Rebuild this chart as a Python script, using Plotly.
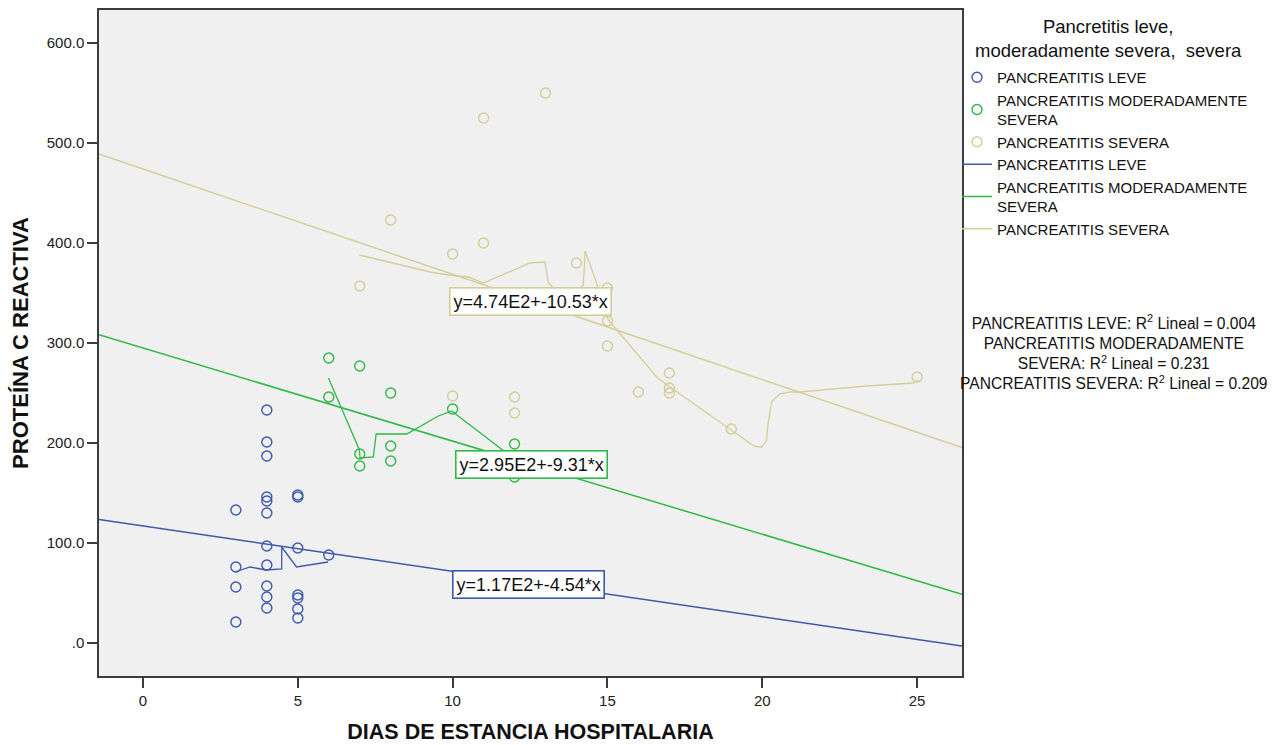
import plotly.graph_objects as go

# Hospital stay (days) vs. C-reactive protein, by pancreatitis severity
leve_x = [4, 4, 4, 4, 4, 5, 5, 3, 4, 4, 5, 6, 3, 4, 3, 4, 4, 4, 5, 5, 5, 5, 3]
leve_y = [233, 201, 187, 146, 142, 148, 146, 133, 130, 97, 95, 88, 76, 78, 56, 57, 46, 35, 48, 45, 34, 25, 21]

mod_x = [6, 7, 6, 8, 10, 7, 7, 8, 8, 12, 12]
mod_y = [285, 277, 246, 250, 234, 189, 177, 197, 182, 199, 166]

sev_x = [13, 11, 8, 11, 10, 14, 7, 15, 15, 15, 17, 16, 17, 17, 19, 25, 10, 12, 12]
sev_y = [550, 525, 423, 400, 389, 380, 357, 355, 322, 297, 270, 251, 255, 250, 214, 266, 247, 246, 230]

# Local (loess) fit curves per group
leve_curve_x = [2.97, 3.46, 3.97, 4.48, 4.48, 4.96, 5.98]
leve_curve_y = [71, 76, 73, 74, 96, 76, 81]

mod_curve_x = [5.99, 6.99, 7.01, 7.44, 7.53, 8.52, 9.54, 9.97, 11.53, 11.98]
mod_curve_y = [265, 193, 185, 186, 209, 209, 227, 232, 195, 185]

sev_curve_x = [6.99, 9.27, 9.86, 10.51, 10.99, 12.50, 12.98, 13.09, 13.66, 14.22, 14.28, 14.65,
               15.03, 16.59, 17.02, 17.99, 19.01, 19.6, 19.73, 19.87, 19.99, 20.09, 20.14, 20.18,
               20.3, 20.56, 20.88, 21.22, 23.37, 24.88, 25.04]
sev_curve_y = [388, 371, 368, 366, 360, 380, 381, 360, 343, 358, 392, 360,
               323, 266, 256, 235, 213, 200, 197, 196, 196, 200, 203, 218,
               241, 249, 251, 251, 257, 260, 263]

# Linear fit coefficients (intercept, slope) and R squared
group_names = ["PANCREATITIS LEVE", "PANCREATITIS MODERADAMENTE<br>SEVERA", "PANCREATITIS SEVERA"]
r2_names = ["PANCREATITIS LEVE", "PANCREATITIS MODERADAMENTE<br>SEVERA", "PANCREATITIS SEVERA"]
intercepts = [117, 295, 474]
slopes = [-4.54, -9.31, -10.53]
r2_values = [0.004, 0.231, 0.209]
label_x = [12.45, 12.55, 12.52]
label_y = [58.5, 178.5, 342]

colors = ["#3E58AC", "#2EB848", "#D3CE97"]

x_ticks = [0, 5, 10, 15, 20, 25]
y_ticks = [0, 100, 200, 300, 400, 500, 600]
x_range = [-1.42, 26.45]
y_range = [-33, 633]

legend_title = "Pancretitis leve,<br>moderadamente severa,  severa"

FONT = "Liberation Sans, Arial, sans-serif"

W, H = 1275, 745
M = dict(l=99, r=313, t=10, b=69)


def sci(v):
    exp = len(str(int(abs(v)))) - 1
    return f"{v / 10 ** exp:.2f}E{exp}"


def y_label(v):
    s = f"{v:.1f}"
    return s[1:] if s.startswith("0") else s


def paper_x(px):
    return (px - M["l"]) / (W - M["l"] - M["r"])


def paper_y(py):
    return (H - py - M["b"]) / (H - M["t"] - M["b"])


fig = go.Figure()

points = [(leve_x, leve_y), (mod_x, mod_y), (sev_x, sev_y)]
curves = [(leve_curve_x, leve_curve_y), (mod_curve_x, mod_curve_y), (sev_curve_x, sev_curve_y)]

for i, (cx, cy) in enumerate(curves):
    fig.add_trace(go.Scatter(x=cx, y=cy, mode="lines", showlegend=False, hoverinfo="skip",
                             line=dict(color=colors[i], width=1.3)))

for i, (px, py) in enumerate(points):
    fig.add_trace(go.Scatter(x=px, y=py, mode="markers", name=group_names[i],
                             marker=dict(symbol="circle-open", size=10, color=colors[i],
                                         line=dict(width=1.4, color=colors[i]))))

for i in range(3):
    fx = list(x_range)
    fy = [intercepts[i] + slopes[i] * v for v in fx]
    fig.add_trace(go.Scatter(x=fx, y=fy, mode="lines", name=group_names[i],
                             line=dict(color=colors[i], width=1.5)))

for i in range(3):
    fig.add_annotation(x=label_x[i], y=label_y[i], xref="x", yref="y", showarrow=False,
                       text=f"y={sci(intercepts[i])}+{slopes[i]}*x",
                       font=dict(family=FONT, size=18, color="#111111"),
                       bgcolor="#ffffff", bordercolor=colors[i], borderwidth=1.6, borderpad=3)

r2_text = "<br>".join(f"{n}: R<sup>2</sup> Lineal = {v:.3f}" for n, v in zip(r2_names, r2_values))
fig.add_annotation(x=paper_x(1114), y=paper_y(352), xref="paper", yref="paper", showarrow=False,
                   xanchor="center", yanchor="middle", align="center", text=r2_text,
                   font=dict(family=FONT, size=15.6, color="#111111"))

# legend heading, centred over the legend entries
fig.add_annotation(x=paper_x(1108), y=paper_y(38), xref="paper", yref="paper", showarrow=False,
                   xanchor="center", yanchor="middle", align="center", text=legend_title,
                   font=dict(family=FONT, size=18.5, color="#111111"))

axis_common = dict(showline=True, mirror=True, linecolor="#3c3c3c", linewidth=1.5,
                   ticks="outside", ticklen=10, tickwidth=1.5, tickcolor="#3c3c3c",
                   showgrid=False, zeroline=False,
                   tickfont=dict(family=FONT, size=15, color="#222222"))

fig.update_xaxes(range=x_range, tickvals=x_ticks, ticktext=[str(v) for v in x_ticks],
                 title=dict(text="DIAS DE ESTANCIA HOSPITALARIA", standoff=16,
                            font=dict(family=FONT, size=21.5, color="#111111", weight="bold")),
                 **axis_common)
fig.update_yaxes(range=y_range, tickvals=y_ticks, ticktext=[y_label(v) for v in y_ticks],
                 title=dict(text="PROTEÍNA C REACTIVA", standoff=12,
                            font=dict(family=FONT, size=22, color="#111111", weight="bold")),
                 **axis_common)

fig.update_layout(
    width=W, height=H, autosize=False,
    margin=dict(**M, autoexpand=False),
    paper_bgcolor="#ffffff", plot_bgcolor="#F0F0F0",
    font=dict(family=FONT, size=15, color="#111111"),
    legend=dict(xref="container", yref="container", x=957 / W, y=1 - 61 / H,
                xanchor="left", yanchor="top", traceorder="normal",
                bgcolor="rgba(0,0,0,0)", tracegroupgap=0,
                font=dict(family=FONT, size=15, color="#111111")),
)

fig.write_html("out.html")
